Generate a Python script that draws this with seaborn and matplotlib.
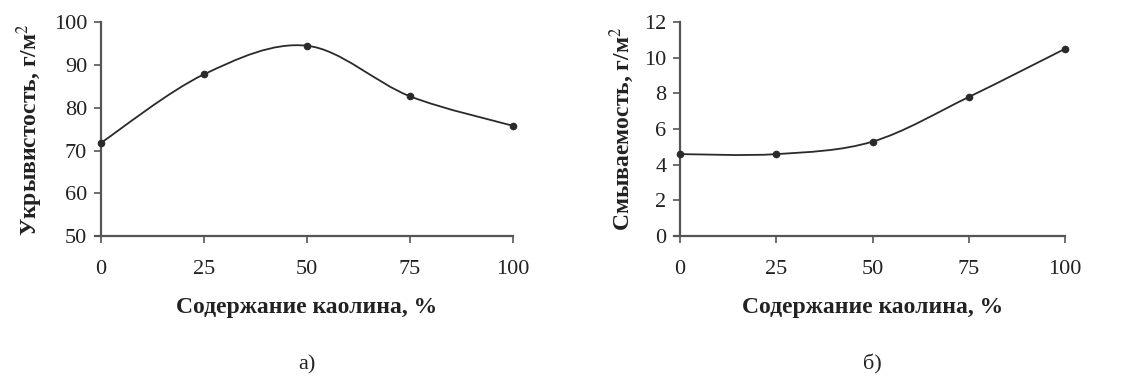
import numpy as np
import pandas as pd
import matplotlib
matplotlib.use("Agg")
import matplotlib.pyplot as plt
from matplotlib.path import Path
from matplotlib.patches import PathPatch
import seaborn as sns

# Данные
kaolin = [0, 25, 50, 75, 100]
ukryv = [71.8, 87.8, 94.5, 82.7, 75.8]
smyv = [4.6, 4.6, 5.3, 7.8, 10.5]

x_ticks = [0, 25, 50, 75, 100]
y_ticks_a = [50, 60, 70, 80, 90, 100]
y_ticks_b = [0, 2, 4, 6, 8, 10, 12]

sns.set_style("ticks")
plt.rcParams['font.family'] = ['Liberation Serif', 'DejaVu Serif']
plt.rcParams['mathtext.fontset'] = 'stix'

LINE = "#2a2a2a"
SPINE = "#555555"


def smooth_path(x, y):
    # сглаженная линия как в Excel (кривые Безье, Catmull-Rom)
    pts = list(zip(x, y))
    verts = [pts[0]]
    codes = [Path.MOVETO]
    n = len(pts)
    for i in range(n - 1):
        p0 = pts[i - 1] if i > 0 else pts[i]
        p1 = pts[i]
        p2 = pts[i + 1]
        p3 = pts[i + 2] if i + 2 < n else pts[i + 1]
        c1 = (p1[0] + (p2[0] - p0[0]) / 6, p1[1] + (p2[1] - p0[1]) / 6)
        c2 = (p2[0] - (p3[0] - p1[0]) / 6, p2[1] - (p3[1] - p1[1]) / 6)
        verts += [c1, c2, p2]
        codes += [Path.CURVE4] * 3
    return Path(verts, codes)


def draw(ax, x, y, yticks, ylim, ylabel, caption):
    ax.add_patch(PathPatch(smooth_path(x, y), facecolor="none",
                           edgecolor=LINE, lw=1.3, zorder=2))
    df = pd.DataFrame({"x": x, "y": y})
    sns.scatterplot(data=df, x="x", y="y", ax=ax, color=LINE, s=22,
                    edgecolor=LINE, linewidth=0.8, zorder=3, clip_on=False)
    ax.set_xlim(0, 100)
    ax.set_ylim(*ylim)
    ax.set_xticks(x_ticks)
    ax.set_yticks(yticks)
    ax.tick_params(labelsize=16, length=5, width=1.2, color=SPINE,
                   labelcolor="#222222")
    ax.tick_params(axis="x", pad=12)
    ax.tick_params(axis="y", pad=5)
    for s in ["top", "right"]:
        ax.spines[s].set_visible(False)
    for s in ["left", "bottom"]:
        ax.spines[s].set_color(SPINE)
        ax.spines[s].set_linewidth(1.6)
    ax.spines["bottom"].set_bounds(-1.5, 100)
    ax.set_xlabel("Содержание каолина, %", fontsize=17, fontweight="bold",
                  color="#222222", labelpad=13)
    ax.set_ylabel(ylabel, fontsize=17, fontweight="bold", color="#222222",
                  labelpad=6)
    ax.text(0.5, -0.6, caption, transform=ax.transAxes, ha="center",
            va="center", fontsize=16, color="#222222")


fig = plt.figure(figsize=(11.28, 3.76), dpi=100)
ax1 = fig.add_axes([0.0895, 0.372, 0.365, 0.569])
ax2 = fig.add_axes([0.603, 0.372, 0.341, 0.569])

draw(ax1, kaolin, ukryv, y_ticks_a, (50, 100), "Укрывистость, г/м$^2$", "а)")
draw(ax2, kaolin, smyv, y_ticks_b, (0, 12), "Смываемость, г/м$^2$", "б)")

fig.savefig("out.png", dpi=100, facecolor="white")
